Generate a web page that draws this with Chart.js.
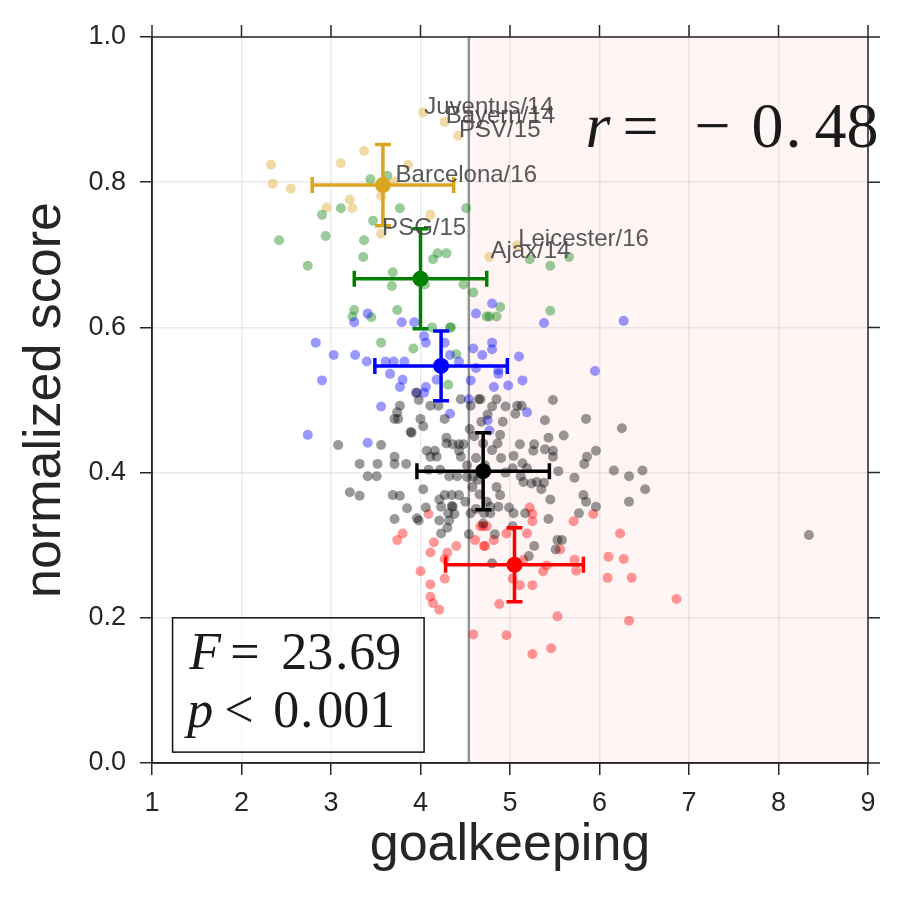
<!DOCTYPE html>
<html>
<head>
<meta charset="utf-8">
<script src="https://cdn.jsdelivr.net/npm/chart.js@4.4.1/dist/chart.umd.min.js"></script>
<style>
  html, body { margin: 0; padding: 0; background: #fff; }
  #wrap { width: 900px; height: 900px; }
</style>
</head>
<body>
<div id="wrap"><canvas id="myChart"></canvas></div>
<script>
// goalkeeping rating vs normalized score, one group per table tier

const blackGk = [3.77,3.74,3.71,3.75,3.95,3.98,4.11,4.20,4.27,4.45,4.65,4.56,4.00,4.03,3.89,3.90,4.29,4.29,4.36,4.43,4.48,3.08,3.56,4.07,4.16,4.18,4.11,4.45,4.43,3.71,3.71,3.84,3.32,3.52,3.41,3.51,4.09,4.22,4.32,4.41,4.52,4.59,4.03,3.21,3.32,3.69,3.77,4.21,4.27,4.35,4.43,3.85,3.96,4.23,4.31,4.36,4.56,3.71,
  4.67,4.85,4.80,4.95,5.08,5.13,5.06,5.48,5.39,5.85,6.25,4.89,5.43,5.60,5.11,5.27,5.26,5.39,5.48,5.48,4.80,5.04,5.14,5.03,5.19,5.12,5.15,5.86,5.83,5.96,5.54,5.72,6.16,6.33,6.48,6.51,6.33,5.24,5.30,5.38,5.35,5.45,5.82,5.85,5.96,5.77,4.89,4.99,5.04,4.87,4.78,4.78,4.71,5.17,5.43,
  3.98,4.06,4.21,4.32,4.30,4.23,4.38,4.35,4.54,5.03,4.83,4.80,5.27,5.21,5.53,5.58,5.51,8.34,
  4.60,4.70,4.62,4.72,4.58,4.66,4.74,4.62,4.70,4.50,4.55,4.68,4.90,4.95,4.85,4.92,4.86,4.75,4.52,4.64];
const blackScore = [0.492,0.483,0.474,0.474,0.510,0.500,0.492,0.492,0.474,0.501,0.501,0.492,0.474,0.464,0.456,0.455,0.448,0.440,0.439,0.439,0.439,0.438,0.438,0.430,0.430,0.422,0.422,0.422,0.430,0.422,0.412,0.412,0.412,0.412,0.395,0.395,0.404,0.404,0.395,0.395,0.394,0.394,0.377,0.373,0.368,0.369,0.368,0.363,0.369,0.369,0.369,0.351,0.337,0.353,0.344,0.353,0.344,0.336,
  0.501,0.501,0.491,0.491,0.492,0.492,0.481,0.500,0.472,0.474,0.461,0.452,0.448,0.451,0.439,0.439,0.430,0.432,0.430,0.422,0.431,0.423,0.413,0.406,0.406,0.395,0.387,0.422,0.412,0.430,0.402,0.393,0.403,0.395,0.403,0.377,0.360,0.385,0.387,0.386,0.377,0.363,0.369,0.360,0.353,0.344,0.369,0.352,0.344,0.353,0.353,0.344,0.344,0.344,0.336,
  0.334,0.352,0.334,0.334,0.324,0.316,0.343,0.354,0.315,0.326,0.315,0.275,0.299,0.285,0.307,0.307,0.294,0.314,
  0.450,0.440,0.420,0.410,0.380,0.370,0.360,0.350,0.330,0.360,0.460,0.470,0.420,0.400,0.380,0.470,0.440,0.480,0.410,0.390];

const redGk = [3.80,3.74,4.09,4.15,4.11,4.30,4.40,4.27,4.00,4.27,4.11,4.11,4.14,4.21,4.59,4.61,4.72,4.67,4.74,4.70,5.22,5.25,5.25,5.93,5.71,4.96,5.19,4.82,4.71,5.56,6.23,6.10,6.27,5.72,5.74,5.41,5.37,5.15,5.03,5.11,5.25,6.09,6.36,6.86,4.88,5.53,6.33,4.96,5.46,5.25];
const redScore = [0.316,0.307,0.343,0.304,0.290,0.290,0.299,0.281,0.264,0.254,0.246,0.229,0.220,0.211,0.177,0.307,0.299,0.326,0.326,0.326,0.352,0.343,0.333,0.343,0.333,0.316,0.316,0.307,0.299,0.294,0.316,0.284,0.281,0.280,0.265,0.272,0.264,0.280,0.254,0.245,0.245,0.255,0.255,0.226,0.219,0.202,0.196,0.176,0.158,0.150];

const blueGk = [3.41,3.26,3.79,3.93,4.62,4.80,5.38,6.27,2.83,3.03,3.27,3.40,3.61,3.70,3.82,4.04,4.06,4.27,4.33,4.43,4.59,4.69,4.62,3.66,2.90,3.80,3.77,4.18,4.56,3.96,4.04,4.06,4.54,3.56,4.33,4.75,2.74,3.41,4.80,4.80,5.10,4.87,4.87,5.95,5.14,4.82,4.98,5.19,4.77];
const blueScore = [0.619,0.607,0.607,0.607,0.619,0.633,0.606,0.609,0.579,0.562,0.562,0.553,0.553,0.553,0.553,0.588,0.579,0.579,0.562,0.553,0.571,0.562,0.544,0.536,0.527,0.528,0.518,0.528,0.527,0.510,0.510,0.518,0.501,0.491,0.481,0.472,0.452,0.441,0.579,0.570,0.560,0.541,0.536,0.540,0.527,0.518,0.520,0.483,0.458];

const greenGk = [3.44,3.63,3.11,2.90,3.77,4.51,3.47,2.42,2.94,3.37,3.36,2.74,4.19,4.29,4.14,3.69,3.68,4.05,4.48,4.59,3.26,3.24,3.45,3.74,4.33,4.74,4.13,5.22,5.45,5.66,4.89,4.77,4.85,5.45,3.56,3.92,4.34,4.40,4.31];
const greenScore = [0.804,0.809,0.764,0.755,0.764,0.764,0.747,0.720,0.726,0.720,0.697,0.685,0.702,0.702,0.694,0.676,0.657,0.659,0.659,0.648,0.624,0.615,0.614,0.624,0.600,0.615,0.600,0.694,0.685,0.697,0.628,0.615,0.615,0.623,0.579,0.571,0.600,0.563,0.521];

const goldGk = [4.03,4.27,4.42,3.37,2.33,3.11,3.86,2.35,2.55,3.71,3.21,3.24,2.95,3.56,4.11,3.56,4.77,5.08];
const goldScore = [0.896,0.883,0.864,0.843,0.824,0.826,0.824,0.798,0.791,0.801,0.776,0.764,0.765,0.781,0.755,0.729,0.697,0.713];

// labelled teams (sit on gold points)
const teamNames = ['Juventus/14','Bayern/14','PSV/15','Barcelona/16','PSG/15','Ajax/14','Leicester/16'];
const teamGk = [4.03,4.27,4.42,3.71,3.56,4.77,5.08];
const teamScore = [0.896,0.883,0.864,0.801,0.729,0.697,0.713];

// group means with error bars: black, red, blue, green, gold
const meanGk = [4.70, 5.05, 4.23, 4.00, 3.58];
const meanScore = [0.402, 0.273, 0.547, 0.667, 0.796];
const errGk = [0.74, 0.77, 0.74, 0.74, 0.79];
const errScore = [0.053, 0.051, 0.048, 0.069, 0.056];
const groupRgb = ['0,0,0', '255,0,0', '0,0,255', '0,128,0', '218,165,32'];

const threshold = 4.54;
const xTicks = [1,2,3,4,5,6,7,8,9];
const yTicks = [0,0.2,0.4,0.6,0.8,1.0];

const INK = '#262626';
const SANS = '"Liberation Sans", Arial, sans-serif';

function pts(xs, ys) {
  return xs.map((x, i) => ({ x: x, y: ys[i] }));
}

const series = [
  [blackGk, blackScore],
  [redGk, redScore],
  [blueGk, blueScore],
  [greenGk, greenScore],
  [goldGk, goldScore],
];

const datasets = series.map((s, i) => ({
  data: pts(s[0], s[1]),
  backgroundColor: 'rgba(' + groupRgb[i] + ',0.4)',
  borderWidth: 0,
  pointRadius: 5,
  pointHoverRadius: 5,
}));

// pink span right of threshold + vertical line
const spanPlugin = {
  id: 'span',
  beforeDatasetsDraw(chart) {
    const { ctx, chartArea: a, scales: { x } } = chart;
    const px = x.getPixelForValue(threshold);
    ctx.save();
    ctx.fillStyle = 'rgba(255,0,0,0.04)';
    ctx.fillRect(px, a.top, a.right - px, a.bottom - a.top);
    ctx.strokeStyle = 'rgba(128,128,128,0.85)';
    ctx.lineWidth = 2.5;
    ctx.beginPath();
    ctx.moveTo(px, a.top);
    ctx.lineTo(px, a.bottom);
    ctx.stroke();
    ctx.restore();
  }
};

// means, error bars, labels, stats text, frame
const overlayPlugin = {
  id: 'overlay',
  afterDatasetsDraw(chart) {
    const { ctx, chartArea: a, scales: { x, y } } = chart;
    ctx.save();
    const cap = 8;
    for (let i = 0; i < meanGk.length; i++) {
      const cx = x.getPixelForValue(meanGk[i]);
      const cy = y.getPixelForValue(meanScore[i]);
      const x0 = x.getPixelForValue(meanGk[i] - errGk[i]);
      const x1 = x.getPixelForValue(meanGk[i] + errGk[i]);
      const y0 = y.getPixelForValue(meanScore[i] - errScore[i]);
      const y1 = y.getPixelForValue(meanScore[i] + errScore[i]);
      const col = 'rgb(' + groupRgb[i] + ')';
      ctx.strokeStyle = col;
      ctx.fillStyle = col;
      ctx.lineWidth = 3.5;
      ctx.beginPath();
      ctx.moveTo(x0, cy); ctx.lineTo(x1, cy);
      ctx.moveTo(cx, y0); ctx.lineTo(cx, y1);
      ctx.moveTo(x0, cy - cap); ctx.lineTo(x0, cy + cap);
      ctx.moveTo(x1, cy - cap); ctx.lineTo(x1, cy + cap);
      ctx.moveTo(cx - cap, y0); ctx.lineTo(cx + cap, y0);
      ctx.moveTo(cx - cap, y1); ctx.lineTo(cx + cap, y1);
      ctx.stroke();
      ctx.beginPath();
      ctx.arc(cx, cy, 8, 0, Math.PI * 2);
      ctx.fill();
    }

    // team labels
    ctx.font = '24px ' + SANS;
    ctx.fillStyle = 'rgba(70,70,70,0.9)';
    ctx.textAlign = 'left';
    ctx.textBaseline = 'alphabetic';
    teamNames.forEach((n, i) => {
      ctx.fillText(n, x.getPixelForValue(teamGk[i]) + 1, y.getPixelForValue(teamScore[i]) + 1);
    });

    // r = -0.48
    const serif = '"Liberation Serif", "Times New Roman", serif';
    ctx.fillStyle = '#1a1a1a';
    let ax = x.getPixelForValue(5.843), ay = y.getPixelForValue(0.849);
    ctx.font = 'italic 64px ' + serif;
    ctx.fillText('r', ax, ay);
    ctx.font = '64px ' + serif;
    ctx.fillText('=', ax + 37, ay);
    ctx.fillText('\u2212', ax + 109, ay);
    ctx.fillText('0', ax + 166, ay);
    ctx.fillText('.', ax + 200, ay);
    ctx.fillText('48', ax + 229, ay);

    // stats box
    const bx0 = x.getPixelForValue(1.23), bx1 = x.getPixelForValue(4.04);
    const by0 = y.getPixelForValue(0.2), by1 = y.getPixelForValue(0.015);
    ctx.fillStyle = 'rgba(255,255,255,0.6)';
    ctx.fillRect(bx0, by0, bx1 - bx0, by1 - by0);
    ctx.strokeStyle = '#111';
    ctx.lineWidth = 1.5;
    ctx.strokeRect(bx0, by0, bx1 - bx0, by1 - by0);
    ctx.fillStyle = '#1a1a1a';
    ax = x.getPixelForValue(1.415); ay = y.getPixelForValue(0.129);
    ctx.font = 'italic 52px ' + serif;
    ctx.fillText('F', ax, ay);
    ctx.font = '52px ' + serif;
    ctx.fillText('=', ax + 41, ay);
    ctx.fillText('23', ax + 92, ay);
    ctx.fillText('.', ax + 146, ay);
    ctx.fillText('69', ax + 160, ay);
    ay = y.getPixelForValue(0.050);
    ctx.font = 'italic 52px ' + serif;
    ctx.fillText('p', ax - 2, ay);
    ctx.font = '52px ' + serif;
    ctx.fillText('<', ax + 35, ay);
    ctx.fillText('0', ax + 84, ay);
    ctx.fillText('.', ax + 111, ay);
    ctx.fillText('001', ax + 128, ay);

    // frame with mirrored outward ticks on top and right
    ctx.strokeStyle = INK;
    ctx.lineWidth = 1.5;
    ctx.strokeRect(a.left, a.top, a.right - a.left, a.bottom - a.top);
    ctx.beginPath();
    xTicks.forEach(v => {
      const px = x.getPixelForValue(v);
      ctx.moveTo(px, a.top); ctx.lineTo(px, a.top - 12);
    });
    yTicks.forEach(v => {
      const py = y.getPixelForValue(v);
      ctx.moveTo(a.right, py); ctx.lineTo(a.right + 12, py);
    });
    ctx.stroke();
    ctx.restore();
  }
};

const config = {
  type: 'scatter',
  data: { datasets: datasets },
  options: {
    responsive: true,
    maintainAspectRatio: false,
    animation: false,
    layout: { padding: { top: 37, right: 32, left: 0, bottom: 0 } },
    plugins: {
      legend: { display: false },
      tooltip: { enabled: false },
    },
    scales: {
      x: {
        type: 'linear',
        min: 1,
        max: 9,
        afterBuildTicks(scale) { scale.ticks = xTicks.map(v => ({ value: v })); },
        afterFit(scale) { scale.height = 137; },
        ticks: {
          color: INK,
          font: { size: 27, family: SANS },
          padding: 12,
          maxRotation: 0,
        },
        grid: {
          color: 'rgba(0,0,0,0.08)',
          lineWidth: 1.5,
          tickLength: 12,
          tickColor: INK,
          tickWidth: 1.5,
        },
        border: { color: INK, width: 1.5 },
        title: {
          display: true,
          text: 'goalkeeping',
          color: INK,
          font: { size: 52, family: SANS, lineHeight: 1.2 },
          padding: { top: 0, bottom: 23 },
        },
      },
      y: {
        type: 'linear',
        min: 0,
        max: 1,
        afterBuildTicks(scale) { scale.ticks = yTicks.map(v => ({ value: v })); },
        afterFit(scale) { scale.width = 152; },
        ticks: {
          color: INK,
          font: { size: 27, family: SANS },
          padding: 14,
          callback: v => v.toFixed(1),
        },
        grid: {
          color: 'rgba(0,0,0,0.08)',
          lineWidth: 1.5,
          tickLength: 12,
          tickColor: INK,
          tickWidth: 1.5,
        },
        border: { color: INK, width: 1.5 },
        title: {
          display: true,
          text: 'normalized score',
          color: INK,
          font: { size: 52, family: SANS, lineHeight: 1.2 },
          padding: { top: 14, bottom: 0 },
        },
      },
    },
  },
  plugins: [spanPlugin, overlayPlugin],
};

const myChart = new Chart(document.getElementById('myChart'), config);
</script>
</body>
</html>
